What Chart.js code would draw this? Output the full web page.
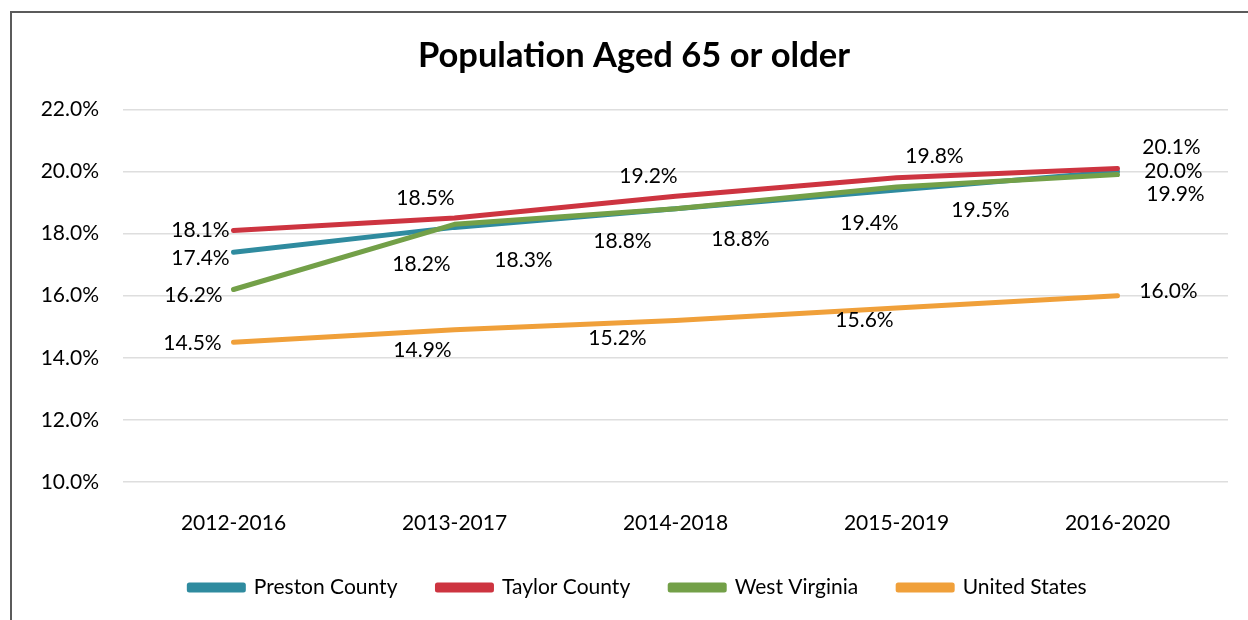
<!DOCTYPE html>
<html>
<head>
<meta charset="utf-8">
<script src="https://cdn.jsdelivr.net/npm/chart.js@4.4.1/dist/chart.umd.min.js"></script>
<style>
  body { margin: 0; background: #fff; overflow: hidden; }
  #frame { position: absolute; left: 10px; top: 11px; width: 1400px; height: 800px; border: 2px solid #5b5b5b; }
  #chart { position: absolute; left: 0; top: 0; }
</style>
</head>
<body>
<div id="frame"></div>
<canvas id="chart" width="1248" height="620"></canvas>
<script>
// data
const periods = ["2012-2016", "2013-2017", "2014-2018", "2015-2019", "2016-2020"];
const preston = [17.4, 18.2, 18.8, 19.4, 20.0];
const taylor = [18.1, 18.5, 19.2, 19.8, 20.1];
const westVirginia = [16.2, 18.3, 18.8, 19.5, 19.9];
const unitedStates = [14.5, 14.9, 15.2, 15.6, 16.0];
const yTicks = [10, 12, 14, 16, 18, 20, 22];

// where each value label sits, relative to its point (dx, dy)
const labelOffsets = [
  [[-33, 6], [-33, 37], [-53, 32], [-27, 33], [56, 0]],
  [[-33, 0], [-29, -20], [-27, -20], [38, -21], [54, -21]],
  [[-40, 6], [69, 36], [65, 30], [84, 23], [58, 20]],
  [[-41, 1], [-32, 20], [-58, 18], [-32, 12], [51, -4]],
];

const FONT = "Lato, 'Open Sans', sans-serif";

// draws the value labels next to the points
const valueLabels = {
  id: "valueLabels",
  afterDatasetsDraw(chart) {
    const ctx = chart.ctx;
    ctx.save();
    ctx.font = "21px " + FONT;
    ctx.fillStyle = "#000";
    ctx.textAlign = "center";
    ctx.textBaseline = "middle";
    chart.data.datasets.forEach((ds, i) => {
      const meta = chart.getDatasetMeta(i);
      meta.data.forEach((pt, j) => {
        const off = labelOffsets[i][j];
        ctx.fillText(ds.data[j].toFixed(1) + "%", pt.x + off[0], pt.y + off[1]);
      });
    });
    ctx.restore();
  },
};

// nudge the legend and title a bit to the right, like the original
const blockShift = {
  id: "blockShift",
  afterLayout(chart) {
    chart.legend.left += 14;
    chart.legend.right += 14;
    chart.titleBlock.left += 10;
    chart.titleBlock.right += 10;
  },
};

const makeSeries = (label, data, color, order) => ({
  label,
  data,
  borderColor: color,
  backgroundColor: color,
  borderWidth: 5,
  borderCapStyle: "round",
  borderJoinStyle: "round",
  pointRadius: 0,
  tension: 0,
  order,
});

const config = {
  type: "line",
  data: {
    labels: periods,
    datasets: [
      makeSeries("Preston County", preston, "#2f8b9f", 4),
      makeSeries("Taylor County", taylor, "#cd3440", 3),
      makeSeries("West Virginia", westVirginia, "#73a048", 2),
      makeSeries("United States", unitedStates, "#f0a03a", 1),
    ],
  },
  options: {
    responsive: false,
    devicePixelRatio: 1,
    animation: false,
    layout: { padding: { left: 20, right: 20, top: 0, bottom: 12 } },
    scales: {
      x: {
        offset: true,
        afterFit: (s) => { s.height = 55; },
        grid: { display: false },
        border: { display: false },
        ticks: { color: "#000", font: { family: FONT, size: 21 }, padding: 21 },
      },
      y: {
        min: 10,
        max: 22,
        afterBuildTicks: (s) => { s.ticks = yTicks.map(v => ({ value: v })); },
        afterFit: (s) => { s.width = 103; },
        grid: { color: "#dedede", lineWidth: 1.5, drawTicks: false },
        border: { display: false },
        ticks: {
          color: "#000",
          font: { family: FONT, size: 21 },
          padding: 24,
          callback: (v) => v.toFixed(1) + "%",
        },
      },
    },
    plugins: {
      title: {
        display: true,
        text: "Population Aged 65 or older",
        color: "#000",
        font: { family: FONT, size: 34.5, weight: "bold" },
        padding: { top: 35, bottom: 33 },
      },
      legend: {
        position: "bottom",
        labels: {
          color: "#000",
          font: { family: FONT, size: 21 },
          boxWidth: 54,
          boxHeight: 5,
          padding: 40,
          sort: (a, b) => a.datasetIndex - b.datasetIndex,
        },
      },
      tooltip: { enabled: false },
    },
  },
  plugins: [valueLabels, blockShift],
};

const popChart = new Chart(document.getElementById("chart"), config);
</script>
</body>
</html>
